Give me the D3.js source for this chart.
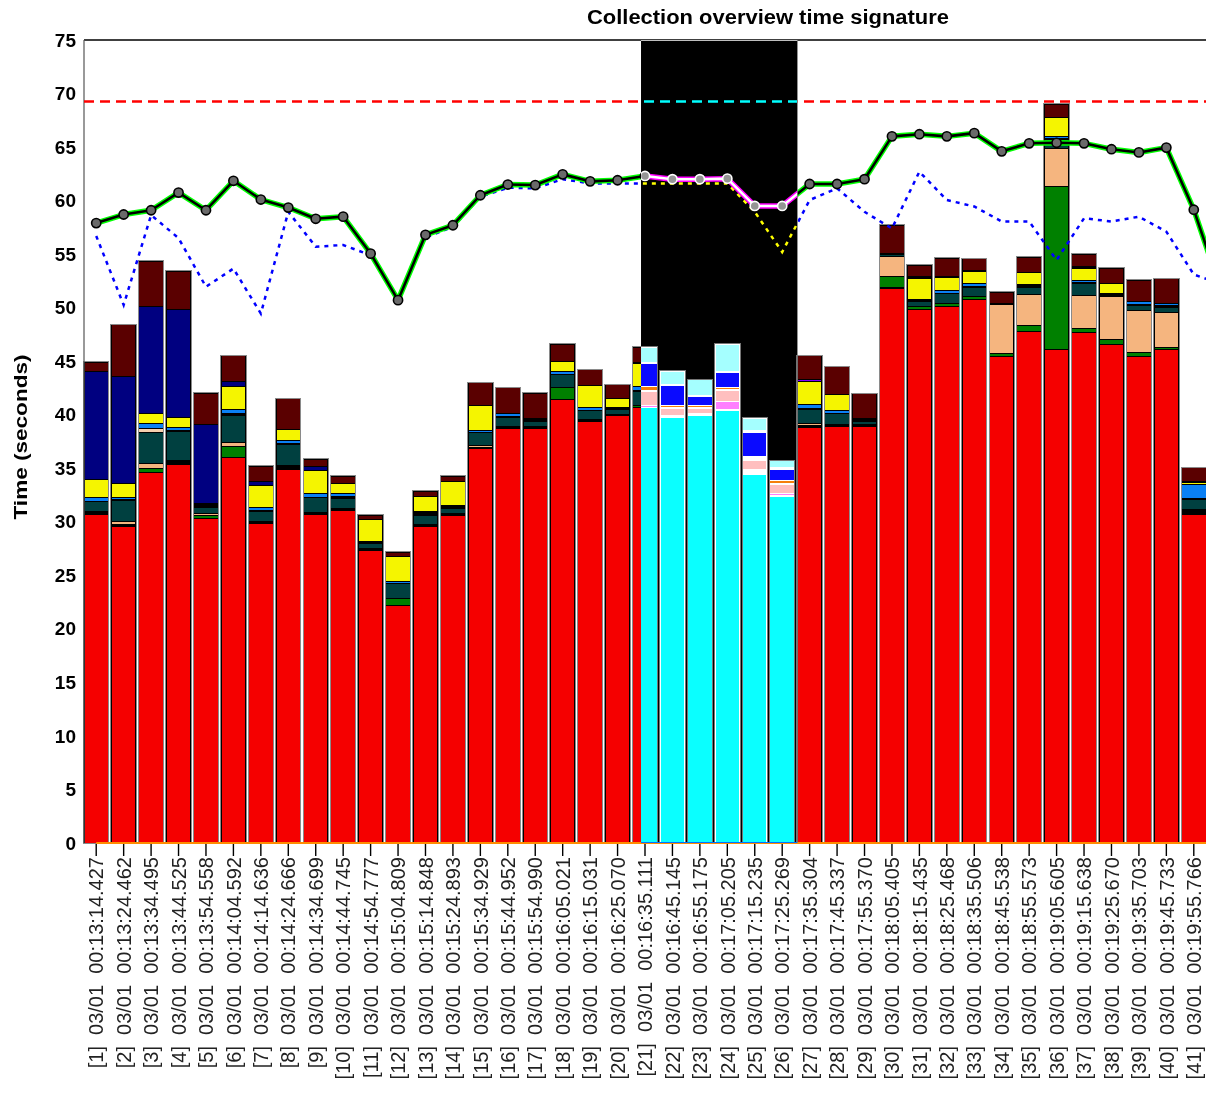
<!DOCTYPE html>
<html><head><meta charset="utf-8">
<script src="https://cdn.jsdelivr.net/npm/d3@7"></script>
<style>body{margin:0;background:#fff}svg{display:block}</style>
</head><body>
<svg id="c" width="1206" height="1095"></svg>
<script>
// ---------- data ----------
const indices = d3.range(1, 42);
const dates = "03/01";
const times = ["00:13:14.427","00:13:24.462","00:13:34.495","00:13:44.525","00:13:54.558","00:14:04.592","00:14:14.636","00:14:24.666","00:14:34.699","00:14:44.745","00:14:54.777","00:15:04.809","00:15:14.848","00:15:24.893","00:15:34.929","00:15:44.952","00:15:54.990","00:16:05.021","00:16:15.031","00:16:25.070","00:16:35.111","00:16:45.145","00:16:55.175","00:17:05.205","00:17:15.235","00:17:25.269","00:17:35.304","00:17:45.337","00:17:55.370","00:18:05.405","00:18:15.435","00:18:25.468","00:18:35.506","00:18:45.538","00:18:55.573","00:19:05.605","00:19:15.638","00:19:25.670","00:19:35.703","00:19:45.733","00:19:55.766"];
const categories = indices.map((n, i) => `[${n}]  ${dates}  ${times[i]}`);
const yTicks = [0,5,10,15,20,25,30,35,40,45,50,55,60,65,70,75];

const red        = [30.7,29.6,34.6,35.35,30.3,36.0,29.85,34.9,30.7,31.1,27.35,22.2,29.6,30.6,36.8,38.75,38.75,41.4,39.4,39.9,40.65,39.75,39.9,40.35,34.46,32.34,38.8,38.9,38.9,51.8,49.85,50.1,50.8,45.4,47.8,46.1,47.7,46.55,45.4,46.05,30.7];
const blackA     = [0.3,0.15,0,0.35,0,0,0.15,0.4,0.15,0.15,0.15,0,0.15,0.15,0.15,0.12,0.12,0,0.15,0.15,0,0.2,0.2,0.1,0.38,0.1,0.15,0.2,0.2,0.1,0,0,0,0,0,0,0,0,0,0,0.47];
const green      = [0,0,0.4,0,0.25,1.05,0,0,0,0,0,0.6,0,0,0,0,0,1.18,0,0,0.2,0,0,0.77,0,0.22,0,0,0,1.03,0.25,0.3,0.2,0.3,0.53,15.2,0.4,0.44,0.4,0.2,0];
const peach      = [0,0.3,0.45,0,0.25,0.4,0,0,0,0,0,0,0,0,0.2,0,0,0,0,0,0,0,0,0,0,0,0.25,0,0,1.87,0,0,0,4.58,2.9,3.58,3.0,4.05,3.9,3.27,0];
const teal       = [0.85,1.9,2.9,2.75,0.5,2.45,0.95,1.9,1.45,0.95,0.47,1.4,0.87,0.47,1.15,0.87,0.53,1.15,0.87,0.47,1.35,0.62,0.47,1.0,0.93,0.84,1.25,1.03,0.3,0.2,0.47,0.93,0.87,0,0.68,0.8,1.12,0,0.47,0.52,0.9];
const blackB     = [0,0.15,0,0.1,0.4,0.2,0.1,0.15,0,0.15,0.15,0,0.3,0.3,0,0.12,0.25,0,0,0.15,0.1,0.1,0.1,0.13,0.31,0.1,0.1,0,0.25,0.1,0.2,0,0.1,0.15,0.3,0.15,0.15,0.3,0.15,0.12,0.1];
const lightpeach = [0,0,0.4,0,0,0,0,0,0,0,0,0,0,0,0,0,0,0,0,0,0,0,0,0,0,0,0,0,0,0,0,0,0,0,0,0,0,0,0,0,0];
const blue       = [0.4,0.2,0.4,0.3,0,0.4,0.25,0.2,0.35,0.3,0,0.25,0,0,0.25,0.25,0,0.3,0.25,0,0.3,0.15,0.15,0.15,0,0.24,0.43,0.3,0,0,0,0.3,0.25,0,0,0.2,0.2,0,0.22,0.2,1.27];
const yellow     = [1.7,1.25,0.95,0.9,0,2.1,2.1,1.1,2.1,0.95,2.1,2.27,1.45,2.2,2.33,0,0,0.93,2.1,0.85,2.15,1.9,0.87,1.42,2.28,1.0,2.1,1.5,0,0,1.96,1.18,1.15,0,1.1,1.72,1.1,0.93,0,0,0.25];
const purple     = [0,0,0,0,0,0,0,0,0,0,0,0,0,0,0,0,0,0,0,0,0,0,0,0,0,0,0.2,0,0,0,0,0,0,0,0,0,0,0,0,0,0];
const navy       = [10.1,10.0,10.05,10.05,7.35,0.5,0.4,0,0.45,0,0,0,0,0,0,0,0,0,0,0,0,0,0,0,0,0,0,0,0,0,0,0,0,0,0,0,0,0,0,0,0];
const blackC     = [0,0,0,0,0,0,0,0,0,0,0,0,0,0,0,0,0,0,0,0,0.15,0.15,0.15,0.12,0.21,0.25,0,0,0,0,0.15,0.1,0.1,0,0,0,0.15,0,0,0.06,0.05];
const darkred    = [0.85,4.85,4.2,3.6,2.95,2.4,1.4,2.85,0.65,0.65,0.38,0.45,0.5,0.55,2.1,2.4,2.35,1.6,1.45,1.3,1.4,1.2,1.45,2.52,1.09,0.62,2.24,2.55,2.33,2.6,1.1,1.7,1.1,1.03,1.4,1.25,1.15,1.4,2.03,2.27,1.3];

const totalLine  = [57.9,58.7,59.1,60.75,59.1,61.85,60.1,59.35,58.3,58.5,55.05,50.7,56.8,57.7,60.5,61.5,61.45,62.45,61.8,61.9,62.3,62.0,62.0,62.05,59.5,59.5,61.55,61.55,62.0,66.0,66.2,66.0,66.3,64.6,65.35,65.4,65.35,64.8,64.5,64.95,59.15];
const totalNext  = 51.6;   // following (off-chart) collection
const dottedLine = [56.7,50.25,58.65,56.5,51.95,53.65,49.45,58.95,55.7,55.85,54.9,50.7,56.55,57.55,60.35,61.2,61.15,62.0,61.6,61.6,61.6,61.6,61.6,61.6,58.95,55.2,60.05,61.15,58.95,57.4,62.7,60.05,59.45,58.05,58.05,54.45,58.35,58.05,58.5,57.1,53.1];
const dottedNext = 52.2;
const limitValue = 69.25;
const baselineValue = 0;
const highlightFrom = 21, highlightTo = 26;

// ---------- layout ----------
const L = 84, R = 1206, T = 40, B = 843;
const keys = ["red","blackA","green","peach","teal","blackB","lightpeach","blue","yellow","purple","navy","blackC","darkred"];
const seriesData = {red,blackA,green,peach,teal,blackB,lightpeach,blue,yellow,purple,navy,blackC,darkred};
const colors = {red:"#f50000",blackA:"#000",green:"#008000",peach:"#f5b57f",teal:"#004040",blackB:"#000",
  lightpeach:"#f5cfae",blue:"#0a80f5",yellow:"#f5f500",purple:"#7f00ff",navy:"#000080",blackC:"#000",darkred:"#5a0000"};

const rows = categories.map((c, i) => { const r = {cat: c}; keys.forEach(k => r[k] = seriesData[k][i]); return r; });

const svg = d3.select("#c");
svg.append("rect").attr("width",1206).attr("height",1095).attr("fill","#fff");

const x = d3.scaleBand().domain(categories).range([L, R]).paddingInner(0.11).paddingOuter(0);
const y = d3.scaleLinear().domain([0, 75]).range([B, T]);
const step = x.step(), bw = x.bandwidth();
const cx = i => x(categories[i]) + bw / 2;

const defs = svg.append("defs");
defs.append("clipPath").attr("id","plot").append("rect").attr("x",L).attr("y",T-5).attr("width",R-L).attr("height",B-T+10);

// bars
const stacked = d3.stack().keys(keys)(rows);
const gBars = svg.append("g").attr("shape-rendering","crispEdges");
stacked.forEach(s => {
  gBars.append("g").selectAll("rect").data(s.filter(d => d[1] - d[0] > 0)).join("rect")
    .attr("x", d => x(d.data.cat)).attr("width", bw)
    .attr("y", d => y(d[1])).attr("height", d => y(d[0]) - y(d[1]))
    .attr("fill", colors[s.key]).attr("stroke","#000").attr("stroke-width",1);
});
gBars.append("g").selectAll("rect").data(rows).join("rect")
  .attr("x", d => x(d.cat) - 0.5).attr("width", bw + 1)
  .attr("y", d => y(d3.sum(keys, k => d[k])) - 0.5)
  .attr("height", d => y(0) - y(d3.sum(keys, k => d[k])) + 0.5)
  .attr("fill","none").attr("stroke","#8a8a8a").attr("stroke-width",1);

// axes frame
svg.append("line").attr("x1",L).attr("x2",R).attr("y1",T).attr("y2",T).attr("stroke","#000").attr("stroke-width",1.5);
svg.append("line").attr("x1",L).attr("x2",L).attr("y1",T).attr("y2",B).attr("stroke","#555").attr("stroke-width",1.2);

// lines
const gl = svg.append("g").attr("clip-path","url(#plot)");
const lineGen = d3.line().x(d => d[0]).y(d => y(d[1]));
const withNext = (arr, nxt) => arr.map((v,i) => [cx(i), v]).concat([[cx(arr.length-1) + step, nxt]]);

gl.append("path").attr("d", lineGen([[L, limitValue],[R, limitValue]]))
  .attr("fill","none").attr("stroke","#ff0000").attr("stroke-width",2.5).attr("stroke-dasharray","10,6");
gl.append("path").attr("d", lineGen(categories.map((c,i) => [cx(i), baselineValue]).concat([[R, baselineValue]])))
  .attr("fill","none").attr("stroke","#ff8c00").attr("stroke-width",2);
gl.append("path").attr("d", lineGen(withNext(dottedLine, dottedNext)))
  .attr("fill","none").attr("stroke","#0000ff").attr("stroke-width",2.5).attr("stroke-dasharray","4,5");
const totalPts = withNext(totalLine, totalNext);
gl.append("path").attr("d", lineGen(totalPts)).attr("fill","none").attr("stroke","#00ff00").attr("stroke-width",5.5).attr("stroke-linejoin","round");
gl.append("path").attr("d", lineGen(totalPts)).attr("fill","none").attr("stroke","#000").attr("stroke-width",2.6).attr("stroke-linejoin","round");
gl.append("g").selectAll("circle").data(totalLine).join("circle")
  .attr("cx",(d,i) => cx(i)).attr("cy", d => y(d)).attr("r",4.6)
  .attr("fill","#6a6a6a").attr("stroke","#000").attr("stroke-width",1.6);

// highlighted (inverted) region
const hx0 = x(categories[highlightFrom-1]) + 0.3 * step;
const hx1 = x(categories[highlightTo]);
svg.append("rect").attr("x",hx0).attr("y",T).attr("width",hx1-hx0).attr("height",B-T)
  .attr("fill","#fff").style("mix-blend-mode","difference");

// y axis
const yAxis = d3.axisLeft(y).tickValues(yTicks).tickSize(0).tickPadding(8);
const gy = svg.append("g").attr("transform",`translate(${L},0)`).call(yAxis);
gy.select(".domain").remove();
gy.selectAll("text").attr("font-family","'Liberation Sans', Arial, sans-serif").attr("font-weight","bold")
  .attr("font-size","19px").attr("fill","#000").attr("x",-8);

// x axis
const xAxis = d3.axisBottom(x).tickSize(12).tickFormat("");
const gx = svg.append("g").attr("transform",`translate(0,${B+1})`).call(xAxis);
gx.select(".domain").remove();
gx.selectAll(".tick line").attr("stroke","#000").attr("stroke-width",1.4);
svg.append("g").selectAll("text").data(categories).join("text")
  .attr("transform",(d,i) => `translate(${cx(i)},${B+14}) rotate(-90)`)
  .attr("text-anchor","end").attr("dy","0.36em")
  .style("white-space","pre")
  .attr("font-family","'Liberation Sans', Arial, sans-serif").attr("font-size","20px").attr("fill","#222")
  .text(d => d);

// titles
svg.append("text").attr("x",768).attr("y",24).attr("text-anchor","middle")
  .attr("font-family","'Liberation Sans', Arial, sans-serif").attr("font-weight","bold").attr("font-size","20px")
  .attr("textLength",362).attr("lengthAdjust","spacingAndGlyphs")
  .text("Collection overview time signature");
svg.append("text").attr("transform","translate(27,437) rotate(-90)").attr("text-anchor","middle")
  .attr("font-family","'Liberation Sans', Arial, sans-serif").attr("font-weight","bold").attr("font-size","19px")
  .attr("textLength",165).attr("lengthAdjust","spacingAndGlyphs")
  .text("Time (seconds)");
</script>
</body></html>
